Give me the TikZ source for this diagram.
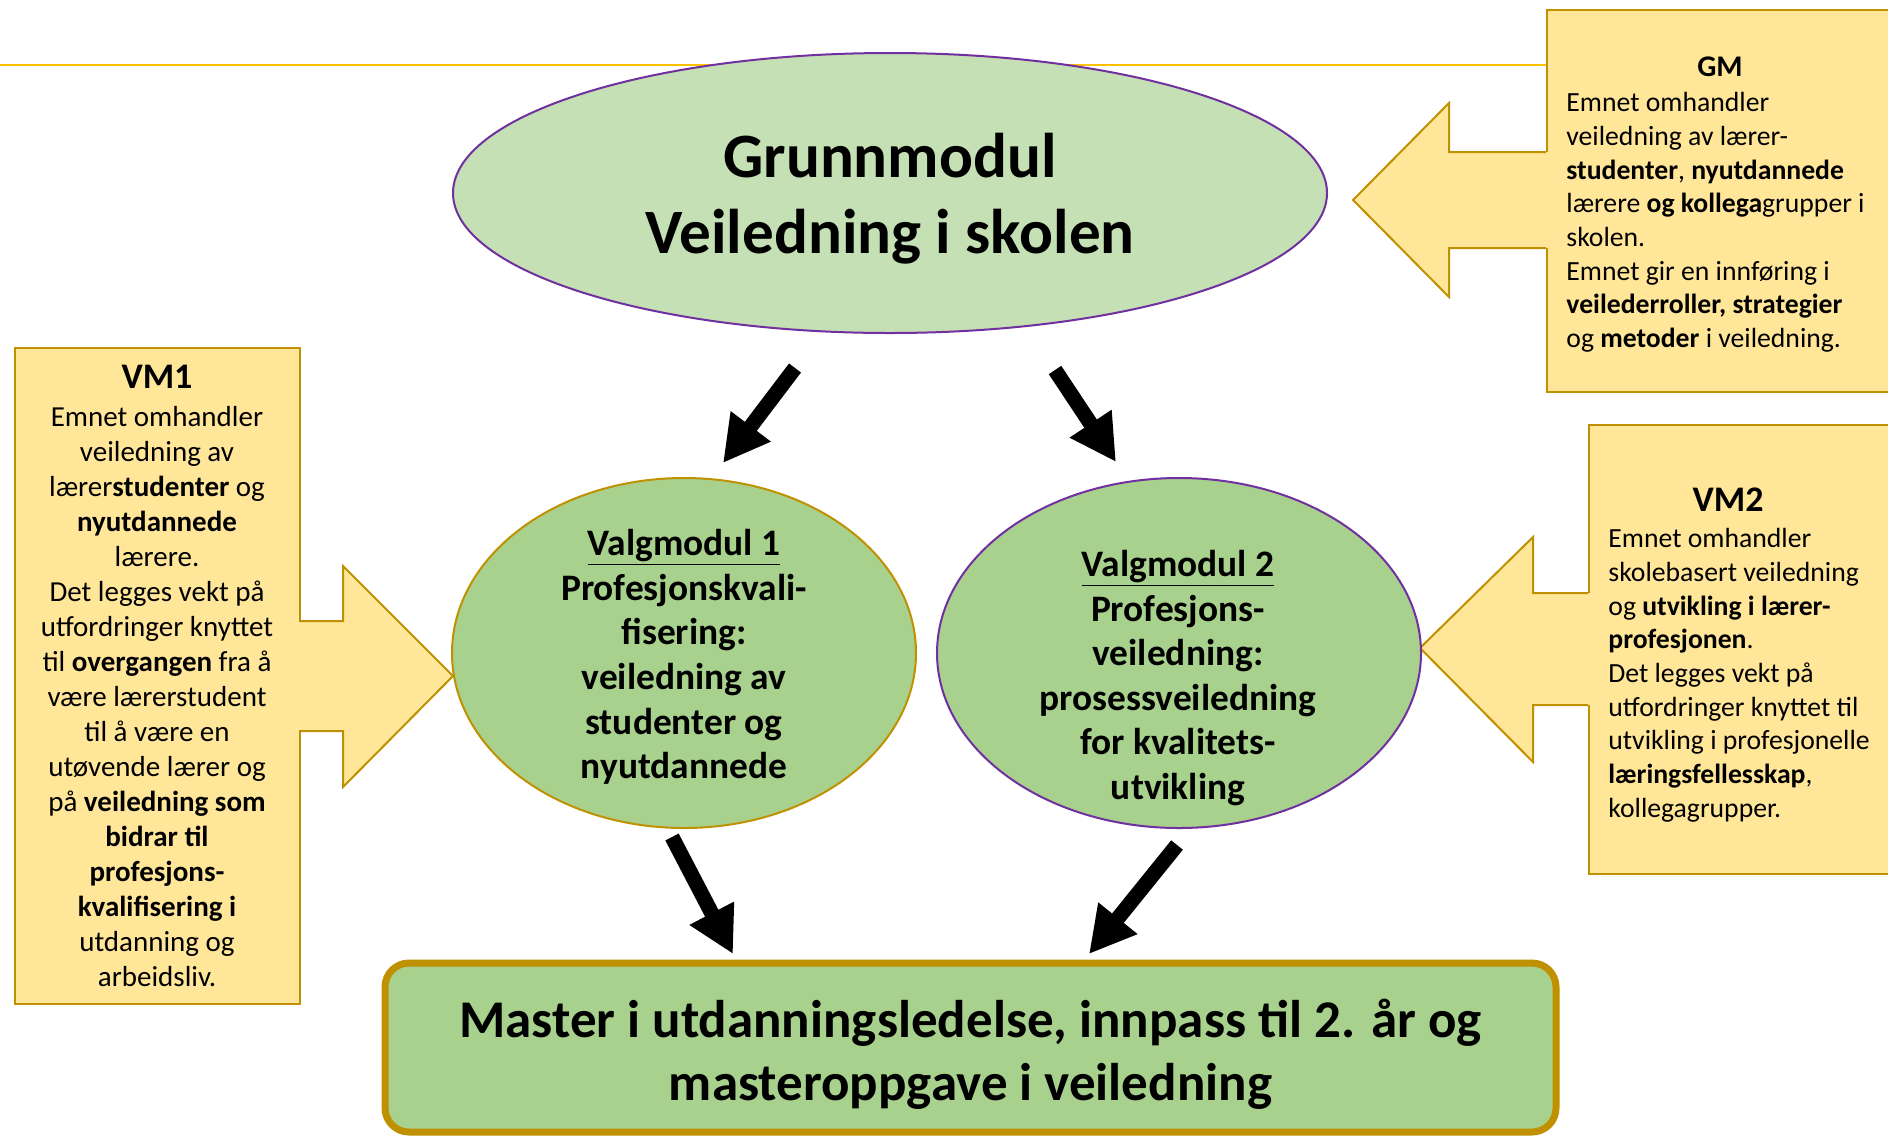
\documentclass[tikz,border=0pt]{standalone}
\usepackage{fontspec}
\setmainfont{Carlito}
\usetikzlibrary{shapes.geometric,arrows.meta}
\definecolor{lysgronn}{HTML}{C5E0B4}
\definecolor{gronn}{HTML}{A9D18E}
\definecolor{lilla}{HTML}{7030A0}
\definecolor{gull}{HTML}{BF9000}
\definecolor{gul}{HTML}{FFE699}
\definecolor{linjegul}{HTML}{FFC000}

\begin{document}
\begin{tikzpicture}[x=0.5pt, y=-0.5pt,
    modul/.style={ellipse, inner sep=0pt, line width=1pt},
    infoboks/.style={rectangle, draw=gull, fill=gul, line width=1pt, anchor=north west, inner sep=0pt},
    tittel/.style={font=\bfseries\fontsize{18}{21}\selectfont, inner sep=0pt},
    brodtekst/.style={font=\fontsize{13.85}{16.85}\selectfont, align=left, anchor=north west, inner sep=0pt},
    modultekst/.style={font=\bfseries\fontsize{18.7}{22.3}\selectfont, align=center, inner sep=0pt},
    pil/.style={line width=7.5pt, -{Triangle[length=23pt, width=23.5pt]}},
    blokkpil/.style={draw=gull, line width=1pt, line join=miter}]

    \useasboundingbox (0,0) rectangle (1888,1136);

    \coordinate (L) at (0,65);
    \node[infoboks, minimum width=176pt, minimum height=191pt] (gm) at (1546,9) {};
    \node[infoboks, minimum width=142.5pt, minimum height=328pt] (vm1boks) at (14,347) {};
    \node[infoboks, minimum width=152pt, minimum height=224.5pt] (vm2boks) at (1588,424) {};
    \draw[linjegul, line width=1pt] (L) -- (gm.west |- L);

    \node[modul, draw=lilla, fill=lysgronn, minimum width=437pt, minimum height=140pt] (grunn) at (890,193) {};
    \node[align=center, inner sep=0pt, font=\bfseries\fontsize{31.6}{38}\selectfont]
        (grunntekst) at (890,199) {Grunnmodul\\Veiledning i skolen};

    \fill[gul] (1548,152) -- (1449,152) -- (1449,103) -- (1353,200) -- (1449,297) -- (1449,248) -- (1548,248) -- cycle;
    \draw[blokkpil] (1546,152) -- (1449,152) -- (1449,103) -- (1353,200) -- (1449,297) -- (1449,248) -- (1546,248);
    \fill[gul] (297,621) -- (343,621) -- (343,566) -- (453,676) -- (343,787) -- (343,731) -- (297,731) -- cycle;
    \draw[blokkpil] (299,621) -- (343,621) -- (343,566) -- (453,676) -- (343,787) -- (343,731) -- (299,731);
    \fill[gul] (1590,593) -- (1533,593) -- (1533,537) -- (1420,648) -- (1533,762) -- (1533,705) -- (1590,705) -- cycle;
    \draw[blokkpil] (1588,593) -- (1533,593) -- (1533,537) -- (1420,648) -- (1533,762) -- (1533,705) -- (1588,705);

    \node[modul, draw=gull, fill=gronn, minimum width=232pt, minimum height=175pt] (vm1) at (684,653) {};
    \node[modul, draw=lilla, fill=gronn, minimum width=242pt, minimum height=175pt] (vm2) at (1179,653) {};
    \node[modultekst] (vm1tekst) at (684,657) {\underline{Valgmodul 1}\\Profesjonskvali-\\fisering:\\veiledning av\\studenter og\\nyutdannede};
    \node[modultekst] (vm2tekst) at (1178,678) {\underline{Valgmodul 2}\\Profesjons-\\veiledning:\\prosessveiledning\\for kvalitets-\\utvikling};

    \node[rectangle, rounded corners=12pt, draw=gull, fill=gronn, line width=3.5pt, minimum width=585.5pt,
        minimum height=84.5pt] (master) at (970.5,1047.5) {};
    \node[align=center, inner sep=0pt, font=\bfseries\fontsize{26.5}{31.3}\selectfont]
        (mastertekst) at (970.5,1054) {Master i utdanningsledelse, innpass til 2. år og\\masteroppgave i veiledning};

    \node[tittel, font=\bfseries\fontsize{15}{18}\selectfont] (gmtittel) at (1720,67) {GM};
    \node[brodtekst] (gmtekst) at (1566,92) {Emnet omhandler\\veiledning av lærer-\\\textbf{studenter}, \textbf{nyutdannede}\\lærere \textbf{og kollega}grupper i\\skolen.\\Emnet gir en innføring i\\\textbf{veilederroller, strategier}\\og \textbf{metoder} i veiledning.};

    \node[tittel] (vm1tittel) at (157,377) {VM1};
    \node[brodtekst, font=\fontsize{14.5}{17.5}\selectfont, align=center, anchor=north] (vm1tekst2) at (157,406) {Emnet omhandler\\veiledning av\\lærer\textbf{studenter} og\\\textbf{nyutdannede}\\lærere.\\Det legges vekt på\\utfordringer knyttet\\til \textbf{overgangen} fra å\\være lærerstudent\\til å være en\\utøvende lærer og\\på \textbf{veiledning som}\\\textbf{bidrar til}\\\textbf{profesjons-}\\\textbf{kvalifisering i}\\utdanning og\\arbeidsliv.};

    \node[tittel] (vm2tittel) at (1728,500) {VM2};
    \node[brodtekst] (vm2tekst2) at (1608,528) {Emnet omhandler\\skolebasert veiledning\\og \textbf{utvikling i lærer-}\\\textbf{profesjonen}.\\Det legges vekt på\\utfordringer knyttet til\\utvikling i profesjonelle\\\textbf{læringsfellesskap},\\kollegagrupper.};

    \coordinate (p1s) at (795,368);
    \coordinate (p1e) at (723,463);
    \coordinate (p2s) at (1055,370);
    \coordinate (p2e) at (1116,462);
    \coordinate (p3s) at (672,837);
    \coordinate (p3e) at (733,954);
    \coordinate (p4s) at (1177,845);
    \coordinate (p4e) at (1089,954);
    \draw[pil] (p1s) -- (p1e);
    \draw[pil] (p2s) -- (p2e);
    \draw[pil] (p3s) -- (p3e);
    \draw[pil] (p4s) -- (p4e);
\end{tikzpicture}
\end{document}
